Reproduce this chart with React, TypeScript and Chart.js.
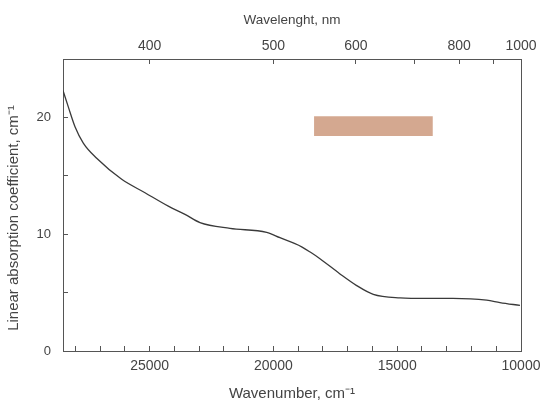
import React, { useEffect, useRef } from "react";
import { Chart, registerables } from "chart.js";

Chart.register(...registerables);

// Absorption spectrum (wavenumber in cm^-1, coefficient in cm^-1)
const wavenumbers = [
  28500, 28286, 28015, 27680, 27139, 26129, 25188, 24247, 23572, 22967,
  21755, 20272, 19735, 19200, 18859, 18500, 18120, 17312, 16637, 15967,
  14888, 13810, 12748, 11387, 10850, 10042,
];
const absorption = [
  22.3, 20.9, 19.2, 17.8, 16.5, 14.7, 13.55, 12.4, 11.7, 11.0,
  10.5, 10.15, 9.7, 9.25, 8.92, 8.45, 7.9, 6.6, 5.6, 4.85,
  4.55, 4.5, 4.5, 4.35, 4.15, 3.9,
];

// Colour band marker
const bandX = [18360, 13560];
const bandLow = [18.4, 18.4];
const bandHigh = [20.1, 20.1];

// Axis ticks
const bottomTickValues = [
  10000, 11000, 12000, 13000, 14000, 15000, 16000, 17000, 18000, 19000,
  20000, 21000, 22000, 23000, 24000, 25000, 26000, 27000, 28000,
];
const bottomTickLabels = [10000, 15000, 20000, 25000];
const topWavelengths = [400, 500, 600, 700, 800, 900, 1000];
const topTickLabels = ["400", "500", "600", "", "800", "", "1000"];
const yTickValues = [0, 5, 10, 15, 20, 25];
const yTickLabels = [0, 10, 20];

const X_MIN = 10000;
const X_MAX = 28500;
const Y_MIN = 0;
const Y_MAX = 25;

const FONT = 'Arial, "Liberation Sans", sans-serif';
const TEXT = "#444";
const AXIS = "#555";

const yTitlePlugin = {
  id: "yTitle",
  afterDraw(chart: any) {
    const ctx = chart.ctx;
    ctx.save();
    ctx.translate(14, 218);
    ctx.rotate(-Math.PI / 2);
    ctx.fillStyle = TEXT;
    ctx.font = `15px ${FONT}`;
    ctx.textAlign = "center";
    ctx.textBaseline = "middle";
    ctx.fillText("Linear absorption coefficient, cm\u207B\u00B9", 0, 0);
    ctx.restore();
  },
};

export default function App() {
  const ref = useRef<HTMLCanvasElement | null>(null);

  useEffect(() => {
    if (!ref.current) return;
    const chart = new Chart(ref.current, {
      type: "line",
      data: {
        datasets: [
          {
            label: "band top",
            data: bandX.map((x, i) => ({ x, y: bandHigh[i] })),
            borderWidth: 0,
            borderColor: "rgba(0,0,0,0)",
            backgroundColor: "#d4a890",
            pointRadius: 0,
            fill: "+1",
          },
          {
            label: "band bottom",
            data: bandX.map((x, i) => ({ x, y: bandLow[i] })),
            borderWidth: 0,
            borderColor: "rgba(0,0,0,0)",
            pointRadius: 0,
            fill: false,
          },
          {
            label: "absorption",
            data: wavenumbers.map((x, i) => ({ x, y: absorption[i] })),
            borderColor: "#3a3a3a",
            borderWidth: 1.3,
            pointRadius: 0,
            fill: false,
            cubicInterpolationMode: "monotone",
          },
        ],
      },
      options: {
        animation: false,
        responsive: false,
        plugins: {
          legend: { display: false },
          tooltip: { enabled: false },
        },
        layout: { padding: 0 },
        scales: {
          x: {
            type: "linear",
            position: "bottom",
            reverse: true,
            min: X_MIN,
            max: X_MAX,
            afterBuildTicks: (s: any) => {
              s.ticks = bottomTickValues.map((value) => ({ value }));
            },
            afterFit: (s: any) => {
              s.height = 50;
              s.paddingLeft = 0;
              s.paddingRight = 0;
            },
            ticks: {
              autoSkip: false,
              maxRotation: 0,
              padding: 12,
              color: TEXT,
              font: { family: FONT, size: 14 },
              callback: (v: any) =>
                bottomTickLabels.includes(Number(v)) ? String(v) : "",
            },
            grid: { drawOnChartArea: false, tickLength: -5, color: AXIS },
            border: { color: AXIS, width: 1 },
            title: {
              display: true,
              text: "Wavenumber, cm\u207B\u00B9",
              color: TEXT,
              font: { family: FONT, size: 15 },
              padding: { top: 0, bottom: -2 },
            },
          },
          x2: {
            type: "linear",
            position: "top",
            reverse: true,
            min: X_MIN,
            max: X_MAX,
            afterBuildTicks: (s: any) => {
              s.ticks = topWavelengths.map((l) => ({ value: 1e7 / l }));
            },
            afterFit: (s: any) => {
              s.height = 59;
              s.paddingLeft = 0;
              s.paddingRight = 0;
            },
            ticks: {
              autoSkip: false,
              maxRotation: 0,
              padding: 9,
              color: TEXT,
              font: { family: FONT, size: 14 },
              callback: (_v: any, i: number) => topTickLabels[i],
            },
            grid: { drawOnChartArea: false, tickLength: -5, color: AXIS },
            border: { color: AXIS, width: 1 },
            title: {
              display: true,
              text: "Wavelenght, nm",
              color: TEXT,
              font: { family: FONT, size: 13.5 },
              padding: { top: 12, bottom: 0 },
            },
          },
          y: {
            type: "linear",
            position: "left",
            min: Y_MIN,
            max: Y_MAX,
            afterBuildTicks: (s: any) => {
              s.ticks = yTickValues.map((value) => ({ value }));
            },
            afterFit: (s: any) => {
              s.width = 63;
              s.paddingTop = 0;
              s.paddingBottom = 0;
            },
            ticks: {
              autoSkip: false,
              padding: 17,
              color: TEXT,
              font: { family: FONT, size: 13 },
              callback: (v: any) =>
                yTickLabels.includes(Number(v)) ? String(v) : "",
            },
            grid: { drawOnChartArea: false, tickLength: -5, color: AXIS },
            border: { color: AXIS, width: 1 },
          },
          y2: {
            type: "linear",
            position: "right",
            min: Y_MIN,
            max: Y_MAX,
            afterFit: (s: any) => {
              s.width = 21;
              s.paddingTop = 0;
              s.paddingBottom = 0;
            },
            ticks: { display: false },
            grid: { drawOnChartArea: false, drawTicks: false, color: AXIS },
            border: { color: AXIS, width: 1 },
          },
        },
      },
      plugins: [yTitlePlugin],
    } as any);
    return () => chart.destroy();
  }, []);

  return (
    <div style={{ position: "fixed", left: 0, top: 0, width: 542, height: 401, background: "#fff" }}>
      <canvas ref={ref} width={542} height={401} style={{ display: "block" }} />
    </div>
  );
}
